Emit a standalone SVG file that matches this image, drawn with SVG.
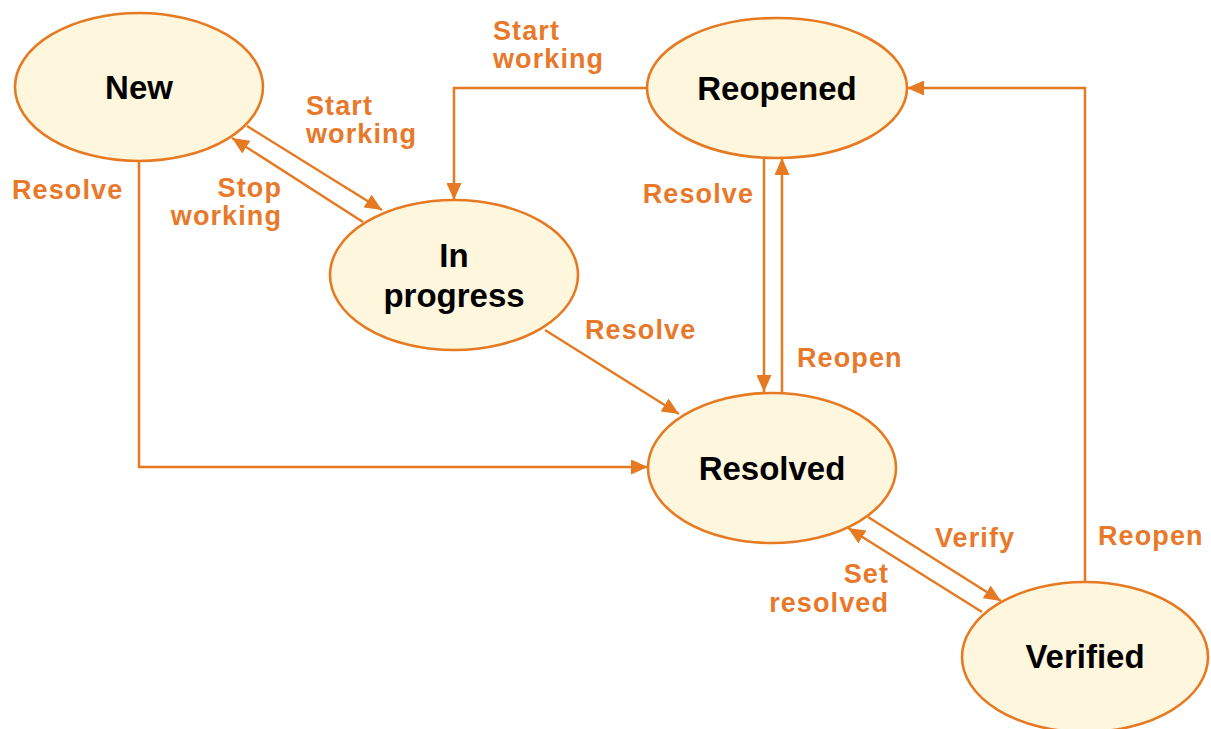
<svg xmlns="http://www.w3.org/2000/svg" width="1211" height="729" viewBox="0 0 1211 729">
<defs>
<marker id="arr" markerUnits="userSpaceOnUse" markerWidth="17" markerHeight="15" refX="17" refY="7.5" orient="auto">
<path d="M0,0 L17,7.5 L0,15 z" fill="#E57A22"/>
</marker>
<style>
.node ellipse{fill:#FFF6DE;stroke:#E57A22;stroke-width:2.6}
.node text{font-family:"Liberation Sans",Arial,sans-serif;font-weight:bold;font-size:33px;fill:#000;text-anchor:middle}
.conn path{fill:none;stroke:#E57A22;stroke-width:2.5;marker-end:url(#arr)}
.lbl{font-family:"Liberation Sans",Arial,sans-serif;font-weight:bold;font-size:27px;fill:#E8792A;letter-spacing:1.1px}
.r{text-anchor:end}
</style>
</defs>
<rect width="1211" height="729" fill="#fff"/>
<g id="connectors" class="conn">
<path d="M247,126 L382,210"/>
<path d="M363,222 L232,138"/>
<path d="M647,88 H454 V200"/>
<path d="M139,161 V467 H648"/>
<path d="M545,330 L679,414"/>
<path d="M764,158 V392"/>
<path d="M782,393 V158"/>
<path d="M868,517 L1001,601"/>
<path d="M982,612 L848,528"/>
<path d="M1085,582 V88 H907"/>
</g>
<g id="labels">
<text class="lbl" x="306" y="115">Start</text>
<text class="lbl" x="306" y="143">working</text>
<text class="lbl r" x="282" y="197">Stop</text>
<text class="lbl r" x="282" y="225">working</text>
<text class="lbl" x="493" y="40">Start</text>
<text class="lbl" x="493" y="68">working</text>
<text class="lbl" x="12" y="199">Resolve</text>
<text class="lbl" x="585" y="339">Resolve</text>
<text class="lbl r" x="754" y="203">Resolve</text>
<text class="lbl" x="797" y="367">Reopen</text>
<text class="lbl" x="935" y="547">Verify</text>
<text class="lbl r" x="889" y="583">Set</text>
<text class="lbl r" x="889" y="612">resolved</text>
<text class="lbl" x="1098" y="545">Reopen</text>
</g>
<g id="node-new" class="node">
<ellipse cx="139" cy="87" rx="124" ry="74"/>
<text x="139" y="99">New</text>
</g>
<g id="node-reopened" class="node">
<ellipse cx="777" cy="88" rx="130" ry="70"/>
<text x="777" y="100">Reopened</text>
</g>
<g id="node-inprogress" class="node">
<ellipse cx="454" cy="275" rx="124" ry="75"/>
<text x="454" y="267">In</text>
<text x="454" y="307">progress</text>
</g>
<g id="node-resolved" class="node">
<ellipse cx="772" cy="468" rx="124" ry="75"/>
<text x="772" y="480">Resolved</text>
</g>
<g id="node-verified" class="node">
<ellipse cx="1085" cy="657" rx="123" ry="75"/>
<text x="1085" y="668">Verified</text>
</g>
</svg>
